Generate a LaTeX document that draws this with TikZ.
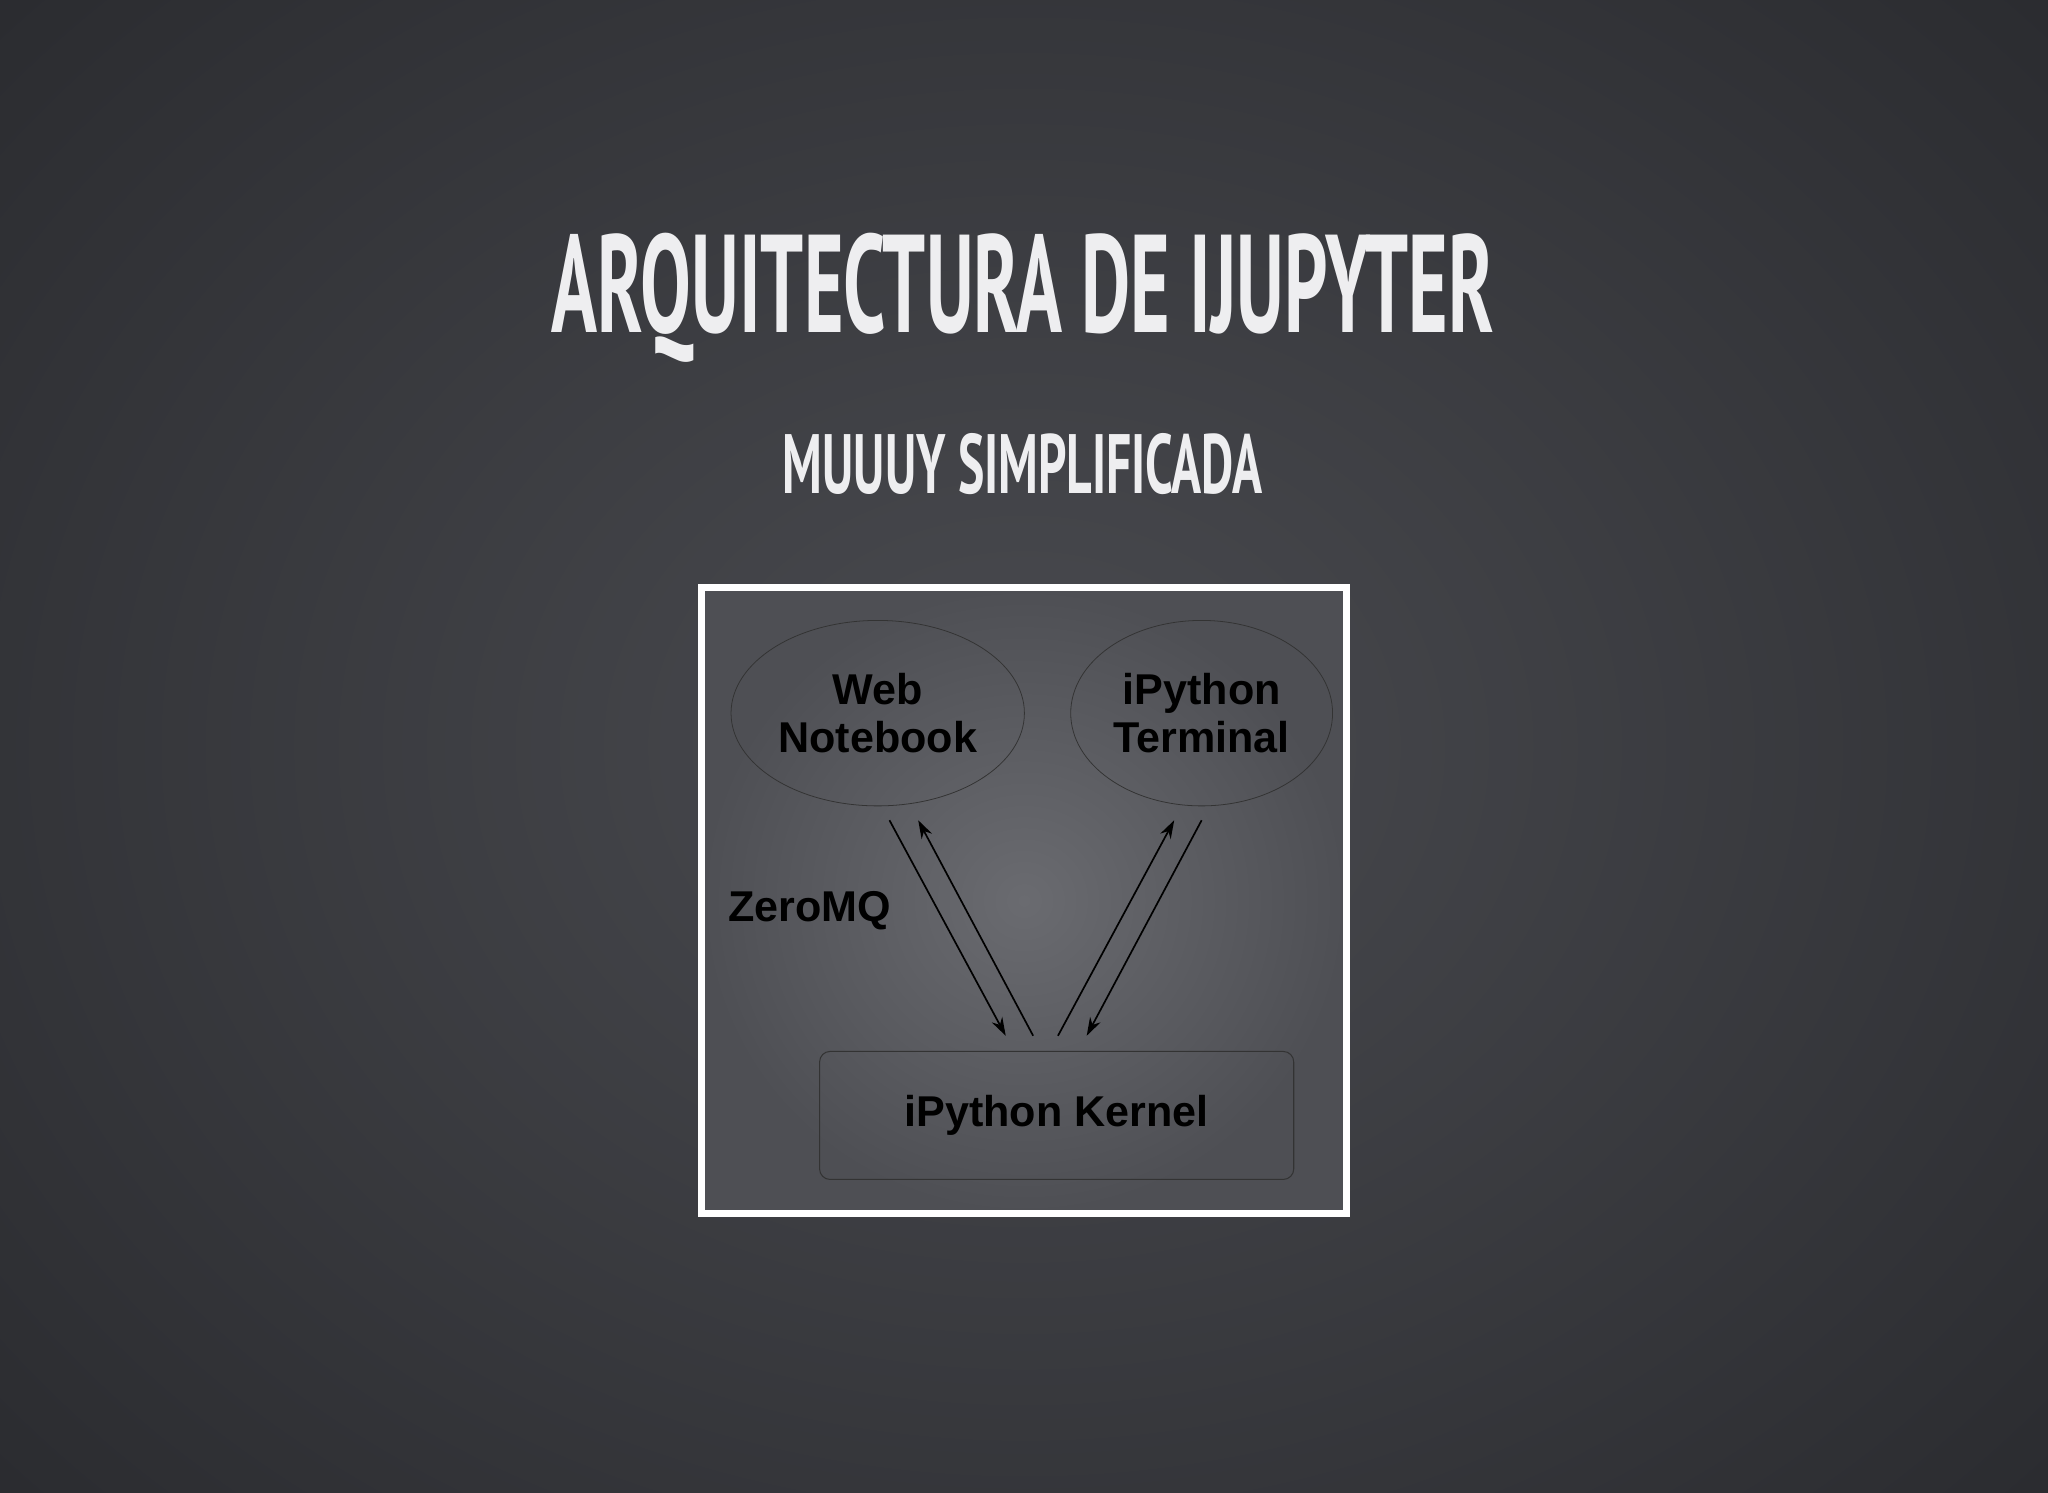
\documentclass[tikz,border=0pt]{standalone}
\usepackage{fontspec}
\setmainfont{Liberation Sans}
\newfontfamily\titlefont{PT Sans}
\usetikzlibrary{shapes.geometric,arrows.meta}
\definecolor{bgin}{HTML}{4A4B50}
\definecolor{bgout}{HTML}{2A2B2F}
\definecolor{panin}{HTML}{6A6B70}
\definecolor{panout}{HTML}{4E4F54}
\definecolor{ttl}{HTML}{EEEEF0}
\begin{document}
\begin{tikzpicture}[x=1pt,y=-1pt,
  lbl/.style={font=\bfseries\fontsize{33}{37}\selectfont,align=center,text=black},
  oval/.style={ellipse,draw=black!80,line width=0.6pt,minimum width=178pt,minimum height=142pt},
  arr/.style={line width=1.3pt,-{Stealth[length=14pt,width=9pt]}},
  ln/.style={line width=1.3pt}]
\useasboundingbox (0,0) rectangle (1568,1143);
\shade[inner color=bgin,outer color=bgout] (-300,-300) rectangle (1868,1443);
\node[text=ttl,inner sep=0] (title) at (783,228) {\resizebox{721pt}{76pt}{\titlefont\bfseries ARQUITECTURA DE IJUPYTER}};
\node[text=ttl,inner sep=0] (sub) at (783,355) {\resizebox{367pt}{46pt}{\titlefont\bfseries MUUUY SIMPLIFICADA}};
\shade[inner color=panin,outer color=panout] (537,450) rectangle (1031,929);
\draw[white,line width=5pt] (537,450) rectangle (1031,929);
\node[oval,lbl] (web) at (672,546) {Web\\Notebook};
\node[oval,lbl] (term) at (920,546) {iPython\\Terminal};
\node[draw=black!80,line width=0.8pt,rounded corners=8pt,minimum width=363pt,minimum height=98pt,lbl] (kern) at (809,854) {iPython Kernel};
\node[lbl] (zmq) at (620,697) {ZeroMQ};
\coordinate (a1) at (681,628); \coordinate (a2) at (770,793);
\coordinate (b1) at (791,793); \coordinate (b2) at (703,628);
\coordinate (c1) at (810,793); \coordinate (c2) at (899,628);
\coordinate (d1) at (920,628); \coordinate (d2) at (832,793);
\draw[arr] (a1) -- (a2);
\draw[arr] (b1) -- (b2);
\draw[arr] (c1) -- (c2);
\draw[arr] (d1) -- (d2);
\end{tikzpicture}
\end{document}
